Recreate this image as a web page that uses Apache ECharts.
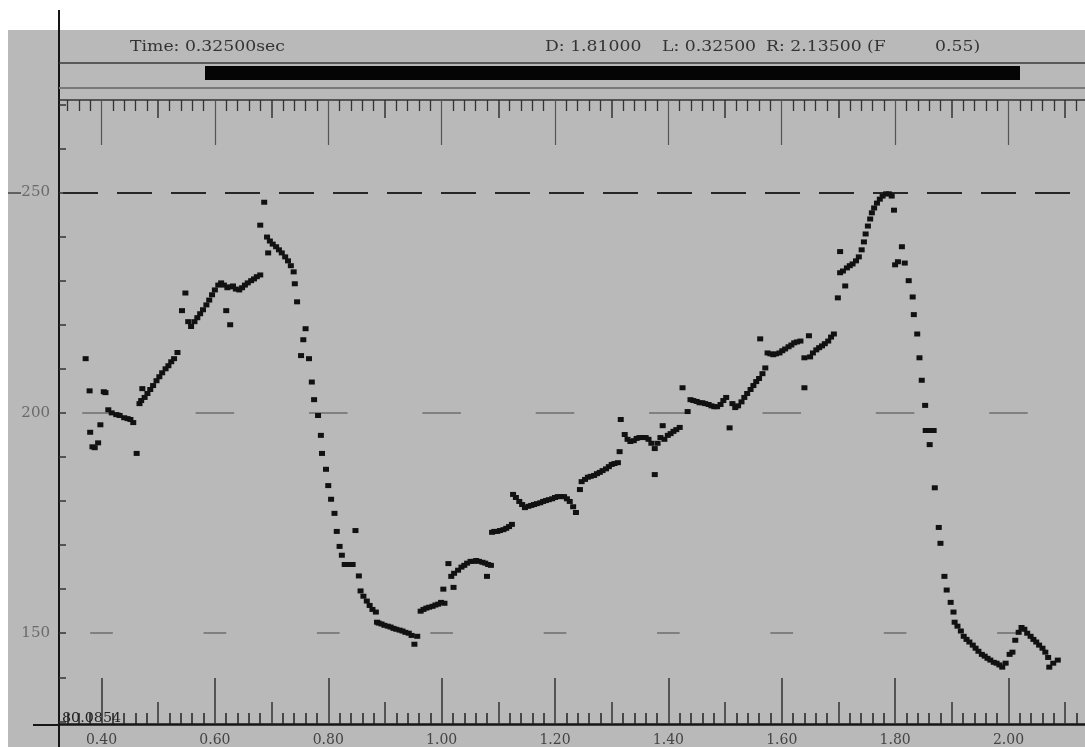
<!DOCTYPE html>
<html><head><meta charset="utf-8">
<script src="https://cdn.jsdelivr.net/npm/echarts@6/dist/echarts.min.js"></script>
<style>html,body{margin:0;padding:0;background:#fff}#c{width:1085px;height:747px}</style>
</head><body><div id="c"></div>
<script>
// ---- axis ranges and ticks ----
const timeRange = [0.325, 2.135];
const pitchRange = [129.4, 271];
const majorTimes = [0.4, 0.6, 0.8, 1.0, 1.2, 1.4, 1.6, 1.8, 2.0];
const midTimes = [0.5, 0.7, 0.9, 1.1, 1.3, 1.5, 1.7, 1.9, 2.1];
const minorTimes = [];
for (let i = 17; i <= 106; i++) { if (i % 5 !== 0) minorTimes.push(+(i * 0.02).toFixed(2)); }
const pitchTicks = [130, 140, 150, 160, 170, 180, 190, 200, 210, 220, 230, 240, 250, 260, 270];
const pitchLabels = [150, 200, 250];
const strongLine = 250;
const weakLines = [200, 150];

// ---- pitch track (time s, F0 Hz) ----
const onsetRise = [[0.372,212.3],[0.379,205.0],[0.380,195.6],[0.384,192.3],[0.388,192.1],[0.394,193.2],[0.398,197.3],[0.404,204.8],[0.407,204.6],[0.412,200.7],[0.418,200.0],[0.426,199.6],[0.432,199.4],[0.440,198.9],[0.446,198.7],[0.451,198.5],[0.456,197.8],[0.462,190.8],[0.467,202.1],[0.470,202.8],[0.472,205.5],[0.476,203.5],[0.481,204.4],[0.486,205.3],[0.491,206.2],[0.497,207.3],[0.502,208.2],[0.507,209.1],[0.513,210.0],[0.518,210.7],[0.523,211.6],[0.528,212.3],[0.534,213.7]];
const firstPlateau = [[0.542,223.2],[0.548,227.2],[0.553,220.7],[0.558,219.6],[0.564,220.7],[0.569,221.6],[0.574,222.5],[0.579,223.4],[0.585,224.5],[0.590,225.6],[0.595,226.8],[0.600,227.9],[0.606,229.0],[0.611,229.5],[0.616,229.0],[0.620,223.2],[0.622,228.4],[0.627,228.6],[0.627,220.0],[0.632,228.8],[0.637,228.1],[0.643,227.9],[0.648,228.4],[0.653,229.0],[0.658,229.5],[0.664,230.0],[0.669,230.4],[0.674,230.9],[0.680,231.3]];
const firstFall = [[0.680,242.6],[0.687,247.8],[0.692,239.9],[0.694,236.3],[0.697,239.0],[0.702,238.3],[0.708,237.7],[0.713,237.0],[0.718,236.3],[0.724,235.4],[0.729,234.5],[0.734,233.4],[0.739,232.0],[0.741,229.3],[0.745,225.2],[0.752,213.0],[0.756,216.6],[0.760,219.1],[0.766,212.3],[0.771,207.0],[0.775,203.0],[0.782,199.4],[0.787,194.9],[0.789,190.8],[0.796,187.2],[0.800,183.5],[0.805,180.4],[0.811,177.2],[0.815,173.1],[0.820,169.7],[0.824,167.7],[0.829,165.6],[0.836,165.6],[0.843,165.6],[0.848,173.3],[0.854,163.0],[0.857,159.6],[0.862,158.4],[0.868,157.3],[0.873,156.3],[0.878,155.4],[0.884,154.8],[0.886,152.5],[0.889,152.3],[0.894,152.1],[0.899,151.8],[0.905,151.6],[0.910,151.4],[0.915,151.1],[0.920,150.9],[0.926,150.7],[0.931,150.5],[0.936,150.2],[0.942,150.0],[0.947,149.5],[0.952,147.5],[0.957,149.3]];
const longRise = [[0.963,155.0],[0.968,155.4],[0.973,155.7],[0.978,155.9],[0.984,156.1],[0.989,156.4],[0.994,156.6],[0.999,157.0],[1.003,160.0],[1.005,156.8],[1.012,165.8],[1.017,162.9],[1.021,160.4],[1.022,163.6],[1.029,164.3],[1.035,165.0],[1.040,165.4],[1.045,165.9],[1.051,166.3],[1.056,166.3],[1.061,166.5],[1.066,166.3],[1.072,166.1],[1.077,165.9],[1.080,162.9],[1.082,165.6],[1.087,165.4],
[1.089,172.9],[1.093,173.1],[1.098,173.1],[1.103,173.3],[1.109,173.5],[1.114,173.8],[1.119,174.2],[1.124,174.7],
[1.126,181.5],[1.131,180.8],[1.137,179.9],[1.142,179.2],[1.147,178.5],[1.153,178.8],[1.158,179.0],[1.163,179.2],[1.168,179.4],[1.174,179.6],[1.179,179.9],[1.184,180.1],[1.189,180.3],[1.195,180.5],[1.200,180.8],[1.205,181.0],[1.210,181.0],[1.216,181.0],[1.221,180.5],[1.226,179.9],[1.232,178.7],[1.237,177.4],[1.244,182.6],
[1.247,184.4],[1.253,184.9],[1.258,185.4],[1.263,185.6],[1.269,185.8],[1.274,186.2],[1.279,186.5],[1.284,186.9],[1.290,187.3],[1.295,187.8],[1.300,188.3],[1.305,188.5],[1.311,188.7],
[1.314,191.2],[1.316,198.5],[1.323,195.1],[1.328,194.0],[1.333,193.5],[1.339,193.7],[1.344,194.2],[1.349,194.4],[1.355,194.4],[1.360,194.4],[1.365,194.0],[1.370,193.1],[1.376,191.9],[1.376,186.0],[1.381,193.1],[1.386,194.4],[1.390,197.1],[1.393,194.0],[1.399,194.9],[1.404,195.3],[1.409,195.8],[1.414,196.2],[1.420,196.7],
[1.425,205.7],[1.434,200.3],[1.439,203.0],[1.444,202.8],[1.450,202.6],[1.455,202.3],[1.460,202.3],[1.465,202.1],[1.471,201.9],[1.476,201.6],[1.481,201.4],[1.486,201.4],[1.492,201.9],[1.497,202.8],[1.502,203.5],[1.508,196.6],[1.513,202.1],[1.518,201.2],[1.523,201.6],[1.529,202.5],[1.534,203.5],[1.539,204.4],[1.545,205.3],[1.550,206.2],[1.555,207.1],[1.560,207.8],[1.566,208.9],[1.571,210.2],
[1.562,216.8],[1.575,213.6],[1.580,213.4],[1.585,213.2],[1.590,213.4],[1.596,213.6],[1.601,214.1],[1.606,214.5],[1.612,215.0],[1.617,215.4],[1.622,215.9],[1.627,216.1],[1.633,216.3],[1.640,212.5],[1.640,205.7],[1.648,217.5],[1.650,212.7],[1.655,213.6],[1.661,214.3],[1.666,214.8],[1.671,215.2],[1.676,215.7],[1.682,216.3],[1.687,217.2],[1.692,217.9]];
const secondPeak = [[1.699,226.1],[1.703,231.8],[1.703,236.6],[1.708,232.2],[1.712,228.8],[1.715,232.9],[1.720,233.4],[1.725,233.8],[1.731,234.5],[1.736,235.4],[1.741,237.0],[1.745,238.8],[1.748,240.6],[1.752,242.4],[1.756,244.0],[1.759,245.4],[1.763,246.5],[1.768,247.6],[1.773,248.5],[1.778,249.2],[1.784,249.7],[1.789,249.7],[1.794,249.2],[1.798,246.0],[1.800,233.6],[1.805,234.3],[1.812,237.7],[1.817,234.0]];
const finalFall = [[1.824,230.0],[1.831,226.3],[1.833,222.3],[1.839,217.9],[1.843,212.5],[1.847,207.4],[1.853,201.7],[1.854,196.0],[1.861,192.8],[1.863,196.0],[1.868,196.0],[1.870,183.0],[1.877,174.0],[1.880,170.4],[1.887,162.9],[1.891,159.8],[1.898,157.0],[1.903,154.8],[1.905,152.5],[1.910,151.6],[1.916,150.5],[1.921,149.3],[1.926,148.6],[1.931,148.0],[1.937,147.3],[1.942,146.6],[1.947,145.9],[1.953,145.2],[1.958,144.8],[1.963,144.3],[1.968,143.9],[1.974,143.4],[1.979,143.2],[1.984,142.8],[1.989,142.3],[1.995,143.2],[2.002,145.2],[2.007,145.7],[2.012,148.4],[2.018,150.2],[2.023,151.3],[2.028,150.9],[2.033,150.0],[2.039,149.3],[2.044,148.6],[2.049,148.0],[2.054,147.3],[2.060,146.6],[2.065,145.7],[2.070,144.5],[2.072,142.3],[2.079,143.2],[2.087,143.9]];

const pitchPoints = [].concat(onsetRise, firstPlateau, firstFall, longRise, secondPeak, finalFall);

// ---- chart ----
const SERIF = 'DejaVu Serif';
function tickAxis(position, values, len, color, width, extra) {
  return Object.assign({
    type: 'value', position: position, min: timeRange[0], max: timeRange[1],
    axisLine: { show: false }, splitLine: { show: false },
    axisTick: { show: true, inside: true, length: len, customValues: values, lineStyle: { color: color, width: width } },
    axisLabel: { show: false }
  }, extra || {});
}
const markData = [];
markData.push([{ coord: [timeRange[0], strongLine], lineStyle: { color: '#262626', width: 2, type: [35, 19], dashOffset: 50 } }, { coord: [timeRange[1], strongLine] }]);
majorTimes.forEach(t => {
  markData.push([{ coord: [t - 0.034, weakLines[0]], lineStyle: { color: '#6e6e6e', width: 1.5, type: 'solid' } }, { coord: [t + 0.034, weakLines[0]] }]);
  markData.push([{ coord: [t - 0.02, weakLines[1]], lineStyle: { color: '#6e6e6e', width: 1.5, type: 'solid' } }, { coord: [t + 0.02, weakLines[1]] }]);
});

const hdrFont = '15px "DejaVu Serif"';
function hdrText(x, s) {
  return { type: 'text', x: x, y: 47, scaleX: 1.15, z: 5, style: { text: s, font: hdrFont, fill: '#333', verticalAlign: 'middle', align: 'left' } };
}
function seg(x1, y1, x2, y2, color, w) {
  return { type: 'line', z: 5, shape: { x1: x1, y1: y1, x2: x2, y2: y2 }, style: { stroke: color, lineWidth: w } };
}

const chart = echarts.init(document.getElementById('c'), null, { renderer: 'canvas' });
chart.setOption({
  animation: false,
  backgroundColor: '#ffffff',
  grid: { left: 59, top: 100, width: 1030, height: 625, containLabel: false },
  xAxis: [
    tickAxis('bottom', majorTimes, 46, '#333', 1.5, {
      axisLine: { show: true, lineStyle: { color: '#161616', width: 2.5 } },
      axisLabel: { show: true, customValues: majorTimes, formatter: v => v.toFixed(2), color: '#444', fontFamily: SERIF, fontSize: 14, margin: 9 }
    }),
    tickAxis('bottom', midTimes, 22, '#333', 1.5),
    tickAxis('bottom', minorTimes, 11, '#222', 1.5),
    tickAxis('top', majorTimes, 45, '#555', 1.2, { axisLine: { show: true, lineStyle: { color: '#333', width: 1.5 } } }),
    tickAxis('top', midTimes, 18, '#333', 1.5),
    tickAxis('top', minorTimes, 11, '#333', 1.3)
  ],
  yAxis: {
    type: 'value', position: 'left', min: pitchRange[0], max: pitchRange[1],
    axisLine: { show: true, lineStyle: { color: '#161616', width: 2 } },
    splitLine: { show: false },
    axisTick: { show: true, inside: true, length: 7, customValues: pitchTicks, lineStyle: { color: '#333', width: 1.5 } },
    axisLabel: { show: true, customValues: pitchLabels, color: '#6a6a6a', fontFamily: SERIF, fontSize: 15, margin: 9 }
  },
  graphic: [
    { type: 'rect', z: -10, shape: { x: 8, y: 30, width: 1077, height: 717 }, style: { fill: '#b9b9b9' } },
    seg(59, 10, 59, 100, '#161616', 2),
    seg(59, 725, 59, 747, '#161616', 2),
    seg(33, 725, 59, 725, '#161616', 2),
    seg(8, 193, 21, 193, '#444', 1.5),
    seg(59, 63, 1085, 63, '#3a3a3a', 1.5),
    seg(59, 88, 1085, 88, '#7a7a7a', 2),
    { type: 'rect', z: 5, shape: { x: 205, y: 66, width: 815, height: 14 }, style: { fill: '#050505' } },
    hdrText(130, 'Time: 0.32500sec'),
    hdrText(545, 'D: 1.81000'),
    hdrText(662, 'L: 0.32500'),
    hdrText(766, 'R: 2.13500 (F'),
    hdrText(935, '0.55)'),
    { type: 'text', x: 62, y: 719, scaleX: 1.1, z: 5, style: { text: '80.0854', font: '13px "DejaVu Serif"', fill: '#222', verticalAlign: 'middle' } }
  ],
  series: [
    { type: 'line', data: [], z: 1, markLine: { silent: true, symbol: 'none', label: { show: false }, animation: false, data: markData } },
    { type: 'scatter', data: pitchPoints, symbol: 'rect', symbolSize: [6, 5], itemStyle: { color: '#111', opacity: 1 }, z: 5 }
  ]
});
</script></body></html>
